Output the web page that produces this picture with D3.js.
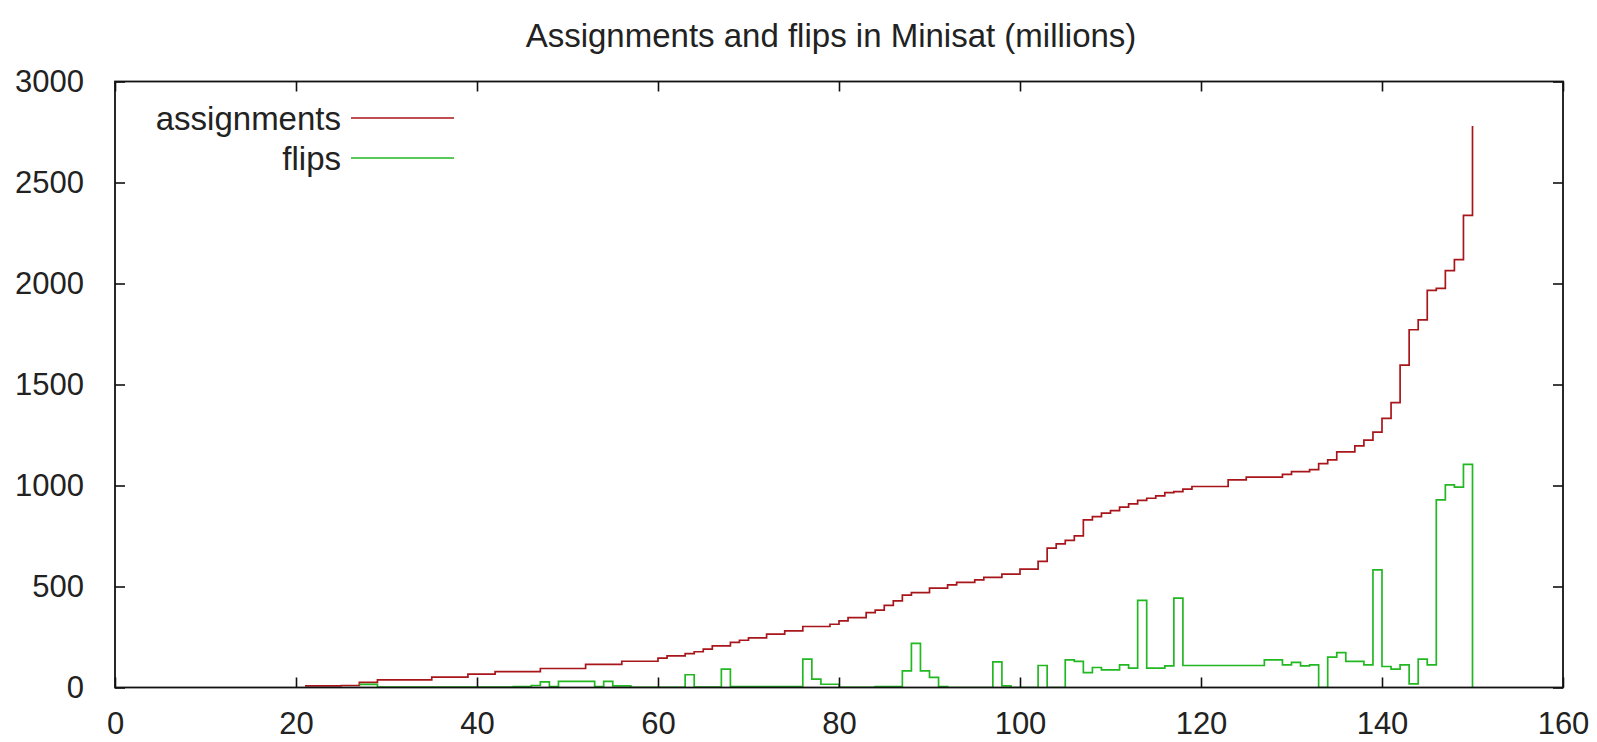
<!DOCTYPE html>
<html>
<head>
<meta charset="utf-8">
<script src="https://cdn.jsdelivr.net/npm/d3@7"></script>
<style>
    body { margin: 0; background: #fff; }
    text { font-family: "Liberation Sans", Arial, sans-serif; fill: #222; }
</style>
</head>
<body>
<div id="chart"></div>
<script>
// Instance index on the x axis (one step per instance)
const runs = d3.range(21, 151);

// Assignments (millions), one value per run
const assignments = [
    8, 8, 8, 8, 10, 10, 25, 25, 38, 38,             // 21-30
    38, 38, 38, 38, 51, 51, 51, 51, 66, 66,         // 31-40
    66, 79, 79, 79, 79, 79, 94, 94, 94, 94,         // 41-50
    94, 114, 114, 114, 114, 130, 130, 130, 130, 145, // 51-60
    157, 157, 168, 177, 190, 206, 206, 223, 234, 246, // 61-70
    246, 264, 264, 280, 280, 302, 302, 302, 313, 330, // 71-80
    346, 346, 371, 383, 407, 429, 457, 470, 470, 492, // 81-90
    492, 508, 520, 520, 533, 545, 545, 561, 561, 586, // 91-100
    586, 624, 690, 711, 728, 751, 830, 846, 863, 876, // 101-110
    893, 909, 926, 937, 949, 965, 970, 982, 995, 995, // 111-120
    995, 995, 1028, 1028, 1041, 1041, 1041, 1041, 1055, 1069, // 121-130
    1069, 1079, 1108, 1127, 1166, 1166, 1196, 1225, 1264, 1332, // 131-140
    1410, 1596, 1771, 1820, 1966, 1976, 2064, 2118, 2337, 2780  // 141-150
];

// Flips (millions), starting at run 27
const flipRuns = d3.range(27, 151);
const flips = [
    15, 15, 2, 2, 2, 2, 2, 2, 2, 2,                 // 27-36
    2, 2, 2, 2, 2, 2, 2, 5, 5, 10,                  // 37-46
    28, 5, 30, 30, 30, 30, 5, 30, 8, 8,             // 47-56
    1, 1, 1, 1, 1, 1, 63, 2, 2, 2,                  // 57-66
    91, 5, 5, 5, 5, 5, 5, 5, 5, 140,                // 67-76
    41, 16, 16, 1, 1, 1, 1, 5, 5, 5,                // 77-86
    82, 218, 82, 50, 5, 0, 0, 0, 0, 0,              // 87-96
    127, 8, 0, 0, 0, 109, 0, 0, 137, 129,           // 97-106
    74, 99, 87, 87, 112, 96, 431, 96, 96, 107,      // 107-116
    442, 109, 109, 109, 109, 109, 109, 109, 109, 109, // 117-126
    137, 137, 112, 124, 107, 112, 0, 150, 173, 129, // 127-136
    129, 112, 582, 104, 91, 112, 18, 140, 112, 929, // 137-146
    1003, 992, 1105, 0                              // 147-150
];

const series = [
    {name: 'assignments', color: '#a8161b', xs: runs, ys: assignments},
    {name: 'flips', color: '#22b822', xs: flipRuns, ys: flips}
];

const x_ticks = [0, 20, 40, 60, 80, 100, 120, 140, 160];
const y_ticks = [0, 500, 1000, 1500, 2000, 2500, 3000];

const width = 1597, height = 742;
const margin = {top: 81.5, right: 34, bottom: 54.5, left: 115};
const inner_w = width - margin.left - margin.right;
const inner_h = height - margin.top - margin.bottom;

const svg = d3.select('#chart').append('svg')
    .attr('width', width)
    .attr('height', height);

svg.append('text')
    .attr('x', 831)
    .attr('y', 35)
    .attr('text-anchor', 'middle')
    .attr('dominant-baseline', 'central')
    .style('font-size', '33px')
    .text('Assignments and flips in Minisat (millions)');

const g = svg.append('g')
    .attr('transform', 'translate(' + margin.left + ',' + margin.top + ')');

const x = d3.scaleLinear().domain([0, 160]).range([0, inner_w]);
const y = d3.scaleLinear().domain([0, 3000]).range([inner_h, 0]);

g.append('clipPath').attr('id', 'plot-clip')
    .append('rect').attr('width', inner_w).attr('height', inner_h);

// data lines (gnuplot "steps")
const line = d3.line().curve(d3.curveStepAfter);
series.forEach(s => {
    g.append('path')
        .attr('clip-path', 'url(#plot-clip)')
        .attr('fill', 'none')
        .attr('stroke', s.color)
        .attr('stroke-width', 1.7)
        .attr('d', line(s.xs.map((v, i) => [x(v), y(s.ys[i])])));
});

// axes with inward ticks, mirrored on top and right
function style_axis(sel) {
    sel.select('.domain').remove();
    sel.selectAll('.tick line').attr('stroke', '#111').attr('stroke-width', 1.6);
    sel.selectAll('.tick text').style('font-size', '31px').attr('fill', '#222');
}

g.append('g')
    .attr('transform', 'translate(0,' + inner_h + ')')
    .call(d3.axisBottom(x).tickValues(x_ticks).tickSize(-10).tickPadding(24).tickFormat(d3.format('d')))
    .call(style_axis);

g.append('g')
    .call(d3.axisTop(x).tickValues(x_ticks).tickSize(-10).tickFormat(''))
    .call(style_axis);

g.append('g')
    .call(d3.axisLeft(y).tickValues(y_ticks).tickSize(-10).tickPadding(31).tickFormat(d3.format('d')))
    .call(style_axis);

g.append('g')
    .attr('transform', 'translate(' + inner_w + ',0)')
    .call(d3.axisRight(y).tickValues(y_ticks).tickSize(-10).tickFormat(''))
    .call(style_axis);

g.append('rect')
    .attr('width', inner_w)
    .attr('height', inner_h)
    .attr('fill', 'none')
    .attr('stroke', '#111')
    .attr('stroke-width', 1.8);

// legend
const legend = svg.append('g');
series.forEach((s, i) => {
    const ly = 118 + i * 40;
    legend.append('text')
        .attr('x', 341)
        .attr('y', ly)
        .attr('text-anchor', 'end')
        .attr('dominant-baseline', 'central')
        .style('font-size', '33px')
        .text(s.name);
    legend.append('line')
        .attr('x1', 351).attr('x2', 454)
        .attr('y1', ly).attr('y2', ly)
        .attr('stroke', s.color)
        .attr('stroke-width', 1.7);
});
</script>
</body>
</html>
